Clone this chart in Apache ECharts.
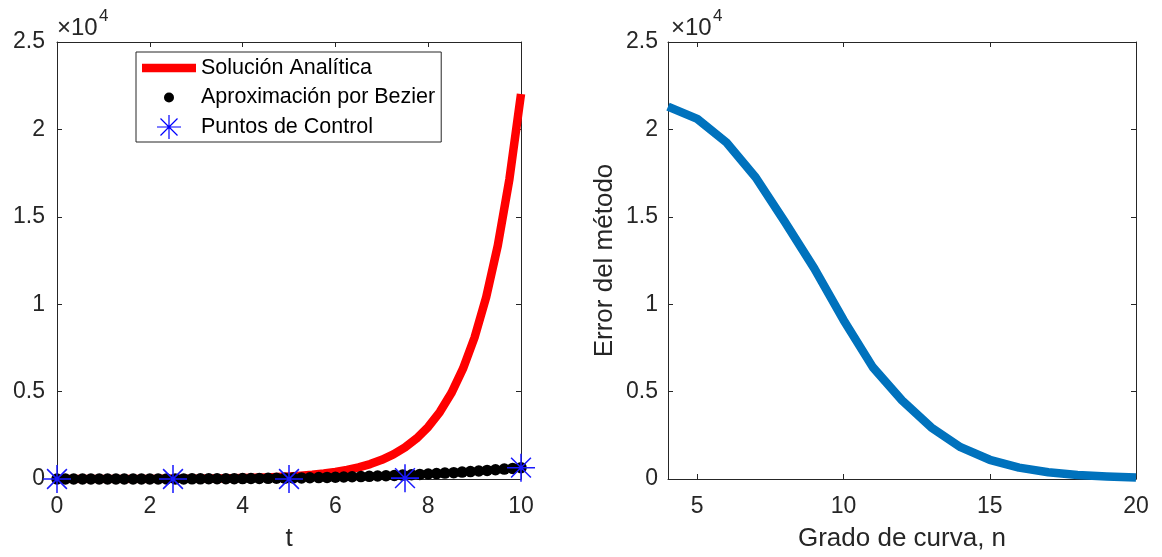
<!DOCTYPE html>
<html>
<head>
<meta charset="utf-8">
<script src="https://cdn.jsdelivr.net/npm/echarts@6/dist/echarts.min.js"></script>
<style>
  html, body { margin: 0; padding: 0; background: #fff; }
  #chart { width: 1162px; height: 557px; }
</style>
</head>
<body>
<div id="chart"></div>
<script>
// Left panel: analytic solution, Bezier approximation and its control points
const tAnalytic = [0, 0.25, 0.5, 0.75, 1, 1.25, 1.5, 1.75, 2, 2.25, 2.5, 2.75, 3, 3.25, 3.5, 3.75, 4, 4.25, 4.5, 4.75, 5,
  5.25, 5.5, 5.75, 6, 6.25, 6.5, 6.75, 7, 7.25, 7.5, 7.75, 8, 8.25, 8.5, 8.75, 9, 9.25, 9.5, 9.75, 10];
const yAnalytic = [1, 1, 2, 2, 3, 4, 4, 6, 7, 10, 12, 16, 20, 26, 33, 43, 55, 70, 90, 116, 148,
  191, 245, 314, 403, 518, 665, 854, 1097, 1408, 1808, 2322, 2981, 3828, 4915, 6311, 8103, 10405, 13360, 17154, 22026];

const tBezier = [0, 0.18, 0.36, 0.55, 0.73, 0.91, 1.09, 1.27, 1.45, 1.64, 1.82, 2, 2.18, 2.36, 2.55, 2.73, 2.91, 3.09,
  3.27, 3.45, 3.64, 3.82, 4, 4.18, 4.36, 4.55, 4.73, 4.91, 5.09, 5.27, 5.45, 5.64, 5.82, 6, 6.18, 6.36, 6.55, 6.73,
  6.91, 7.09, 7.27, 7.45, 7.64, 7.82, 8, 8.18, 8.36, 8.55, 8.73, 8.91, 9.09, 9.27, 9.45, 9.64, 9.82, 10];
const yBezier = [0, 0, 0, 0, 0.1, 0.2, 0.3, 0.5, 0.8, 1.2, 1.7, 2.3, 3.1, 4, 5.2, 6.5, 8.1, 10, 12.2, 14.7, 17.5,
  20.7, 24.3, 28.4, 32.9, 38, 43.6, 49.8, 56.6, 64.1, 72.3, 81.2, 91, 101.5, 113, 125.4, 138.6, 153, 168.5, 185.1,
  202.9, 221.9, 242, 263.7, 286.7, 311.2, 337.2, 364.7, 393.9, 424.9, 457.6, 492.2, 528.7, 567.9, 607.4, 650];

const tControl = [0, 2.5, 5, 7.5, 10];
const yControl = [0, 0, 0, 50, 650];

// Right panel: method error versus curve degree
const grado = [4, 5, 6, 7, 8, 9, 10, 11, 12, 13, 14, 15, 16, 17, 18, 19, 20];
const errorMetodo = [21300, 20600, 19250, 17250, 14700, 12050, 9100, 6400, 4500, 2950, 1820, 1100, 650, 390, 230, 140, 80];

// Tick values
const tTicks = [0, 2, 4, 6, 8, 10];
const gradoTicks = [5, 10, 15, 20];

const labels = {
  analitica: 'Solución Analítica',
  bezier: 'Aproximación por Bezier',
  control: 'Puntos de Control',
  t: 't',
  grado: 'Grado de curva, n',
  error: 'Error del método',
  exp: '×10',
  expPow: '4'
};

const FONT = '"Liberation Sans", Arial, Helvetica, sans-serif';
const INK = '#262626';

const zip = (xs, ys) => xs.map((x, i) => [x, ys[i]]);

// asterisk marker: plus and cross of thin bars
const STAR = 'path://M0,11.35L24,11.35L24,12.65L0,12.65Z M11.35,0L12.65,0L12.65,24L11.35,24Z ' +
  'M3.05,3.97L3.97,3.05L20.95,20.03L20.03,20.95Z M20.03,3.05L20.95,3.97L3.97,20.95L3.05,20.03Z';

// legend icons drawn inside a fixed 54x28 box
const ICON_LINE = 'path://M0,0M54,28M0,9.7L54,9.7L54,18.3L0,18.3Z';
const ICON_DOT = 'path://M0,0M54,28M22,14A5,5,0,1,0,32,14A5,5,0,1,0,22,14Z';
const ICON_STAR = 'path://M0,0M54,28M15,13.4L39,13.4L39,14.6L15,14.6Z M26.4,2L27.6,2L27.6,26L26.4,26Z ' +
  'M18.08,5.92L18.92,5.08L35.92,22.08L35.08,22.92Z M35.08,5.08L35.92,5.92L18.92,22.92L18.08,22.08Z';

function boxAxisX(gridIndex, min, max, ticks, position, showLabels, name) {
  return {
    type: 'value', gridIndex, min, max, position,
    name: name || '', nameLocation: 'middle', nameGap: 47,
    nameTextStyle: { fontFamily: FONT, fontSize: 26, color: INK },
    axisLine: { show: true, onZero: false, lineStyle: { color: INK, width: 1 } },
    axisTick: { show: true, inside: true, length: 5, lineStyle: { color: INK }, customValues: ticks },
    axisLabel: { show: showLabels, customValues: ticks, margin: 16, fontFamily: FONT, fontSize: 23, color: INK },
    splitLine: { show: false }
  };
}

function boxAxisY(gridIndex, position, showLabels, margin, name) {
  return {
    type: 'value', gridIndex, min: 0, max: 25000, interval: 5000, position,
    name: name || '', nameLocation: 'middle', nameGap: 50,
    nameTextStyle: { fontFamily: FONT, fontSize: 26, color: INK },
    axisLine: { show: true, onZero: false, lineStyle: { color: INK, width: 1 } },
    axisTick: { show: true, inside: true, length: 5, lineStyle: { color: INK } },
    axisLabel: {
      show: showLabels, margin, fontFamily: FONT, fontSize: 23, color: INK,
      formatter: v => String(v / 10000)
    },
    splitLine: { show: false }
  };
}

const chart = echarts.init(document.getElementById('chart'), null, { renderer: 'canvas' });

chart.setOption({
  animation: false,
  backgroundColor: '#ffffff',
  grid: [
    { left: 57, top: 42, width: 464, height: 442 },
    { left: 668, top: 42, width: 468, height: 442 }
  ],
  xAxis: [
    boxAxisX(0, 0, 10, tTicks, 'bottom', true, labels.t),
    boxAxisX(0, 0, 10, tTicks, 'top', false),
    boxAxisX(1, 4, 20, gradoTicks, 'bottom', true, labels.grado),
    boxAxisX(1, 4, 20, gradoTicks, 'top', false)
  ],
  yAxis: [
    boxAxisY(0, 'left', true, 12),
    boxAxisY(0, 'right', false, 12),
    boxAxisY(1, 'left', true, 10, labels.error),
    boxAxisY(1, 'right', false, 10)
  ],
  legend: {
    left: 136, top: 52, orient: 'vertical',
    padding: [2, 6, 1, 6], itemGap: 1.5,
    itemWidth: 54, itemHeight: 28,
    borderColor: INK, borderWidth: 1, backgroundColor: '#ffffff',
    textStyle: { fontFamily: FONT, fontSize: 21.5, color: '#000000' },
    selectedMode: false,
    data: [
      { name: labels.analitica, icon: ICON_LINE, itemStyle: { color: '#ff0000', borderWidth: 0 } },
      { name: labels.bezier, icon: ICON_DOT, itemStyle: { color: '#000000', borderWidth: 0 } },
      { name: labels.control, icon: ICON_STAR, itemStyle: { color: '#0000ff', borderWidth: 0 } }
    ]
  },
  series: [
    {
      name: labels.analitica, type: 'line', xAxisIndex: 0, yAxisIndex: 0,
      data: zip(tAnalytic, yAnalytic),
      showSymbol: false, symbol: 'none', smooth: false,
      lineStyle: { color: '#ff0000', width: 8.5, join: 'round' },
      itemStyle: { color: '#ff0000' }, z: 2
    },
    {
      name: labels.bezier, type: 'scatter', xAxisIndex: 0, yAxisIndex: 0,
      data: zip(tBezier, yBezier),
      symbol: 'circle', symbolSize: 11.5,
      itemStyle: { color: '#000000', opacity: 1 }, z: 3
    },
    {
      name: labels.control, type: 'scatter', xAxisIndex: 0, yAxisIndex: 0,
      data: zip(tControl, yControl),
      symbol: STAR, symbolSize: 28,
      itemStyle: { color: '#1a1aff', opacity: 1 }, z: 4
    },
    {
      name: labels.error, type: 'line', xAxisIndex: 2, yAxisIndex: 2,
      data: zip(grado, errorMetodo),
      showSymbol: false, symbol: 'none',
      lineStyle: { color: '#0072bd', width: 8.5, join: 'round' },
      itemStyle: { color: '#0072bd' }, z: 2
    }
  ],
  graphic: [
    { type: 'text', left: 57, top: 16, style: { text: labels.exp, font: '24px ' + FONT, fill: INK } },
    { type: 'text', left: 99, top: 8, style: { text: labels.expPow, font: '17px ' + FONT, fill: INK } },
    { type: 'text', left: 671, top: 16, style: { text: labels.exp, font: '24px ' + FONT, fill: INK } },
    { type: 'text', left: 713, top: 8, style: { text: labels.expPow, font: '17px ' + FONT, fill: INK } }
  ]
});
</script>
</body>
</html>
